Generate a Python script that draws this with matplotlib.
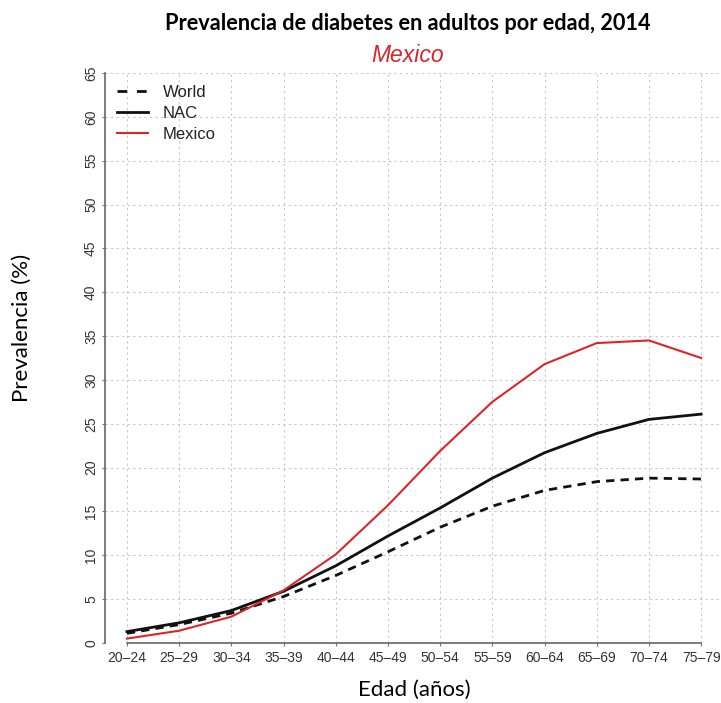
import matplotlib
matplotlib.use("Agg")
import matplotlib.pyplot as plt
import numpy as np

categories = ["20–24", "25–29", "30–34", "35–39", "40–44", "45–49",
              "50–54", "55–59", "60–64", "65–69", "70–74", "75–79"]
world = [1.1, 2.1, 3.4, 5.3, 7.7, 10.4, 13.2, 15.6, 17.4, 18.4, 18.8, 18.7]
nac = [1.3, 2.3, 3.7, 5.9, 8.8, 12.2, 15.4, 18.8, 21.7, 23.9, 25.5, 26.1]
mexico = [0.5, 1.4, 3.0, 6.0, 10.1, 15.7, 21.9, 27.5, 31.8, 34.2, 34.5, 32.5]
yticks = list(range(0, 70, 5))

fig = plt.figure(figsize=(7.21, 7.03), dpi=100)
ax = fig.add_axes([105/721, (703-643)/703, (721-105)/721, (643-73)/703])

x = np.arange(len(categories))
ax.plot(x, world, color="#111111", lw=2.0, ls=(0, (3, 2.2)), label="World")
ax.plot(x, nac, color="#111111", lw=2.0, label="NAC")
ax.plot(x, mexico, color="#d9262b", lw=1.5, label="Mexico")

ax.set_xlim(-0.42, 11.38)
ax.set_ylim(0, 65)
ax.set_xticks(x)
ax.set_xticklabels(categories)
ax.set_yticks(yticks)
ax.set_yticklabels([str(t) for t in yticks], rotation=90, va="center")

for lab in ax.get_xticklabels() + ax.get_yticklabels():
    lab.set_fontfamily("Liberation Sans")
    lab.set_fontsize(10)
    lab.set_color("#333333")
ax.tick_params(axis="both", length=2, color="#777777", width=0.8, pad=4)
ax.tick_params(axis="y", pad=3)

ax.grid(True, color="#c8c8c8", ls=(0, (2, 3)), lw=0.8)
for s in ["top", "right"]:
    ax.spines[s].set_visible(False)
ax.spines["left"].set_bounds(0, 65)
ax.spines["bottom"].set_bounds(0, 11)
for s in ["left", "bottom"]:
    ax.spines[s].set_color("#666666")
    ax.spines[s].set_linewidth(1.2)

leg = ax.legend(loc="upper left", bbox_to_anchor=(0.0, 1.0), frameon=False,
                handlelength=1.9, handletextpad=0.85, labelspacing=0.36,
                prop={"family": "Liberation Sans", "size": 12},
                borderaxespad=0.3)
for t in leg.get_texts():
    t.set_color("#222222")
leg.get_lines()[0].set_dashes([3.5, 3.5])

fig.text(408/721, 1 - 23/703, "Prevalencia de diabetes en adultos por edad, 2014",
         ha="center", va="center", fontsize=15.7, fontweight="bold",
         family="Lato", color="black")
fig.text(408/721, 1 - 56/703, "Mexico", ha="center", va="center",
         fontsize=16.5, style="italic", family="Liberation Sans", color="#d9262b")
fig.text(22/721, 1 - 328/703, "Prevalencia (%)", ha="center", va="center",
         rotation=90, fontsize=16, family="Lato", color="black")
fig.text(414/721, 1 - 690/703, "Edad (años)", ha="center", va="center",
         fontsize=16, family="Lato", color="black")

fig.savefig("out.png", dpi=100, facecolor="white")
